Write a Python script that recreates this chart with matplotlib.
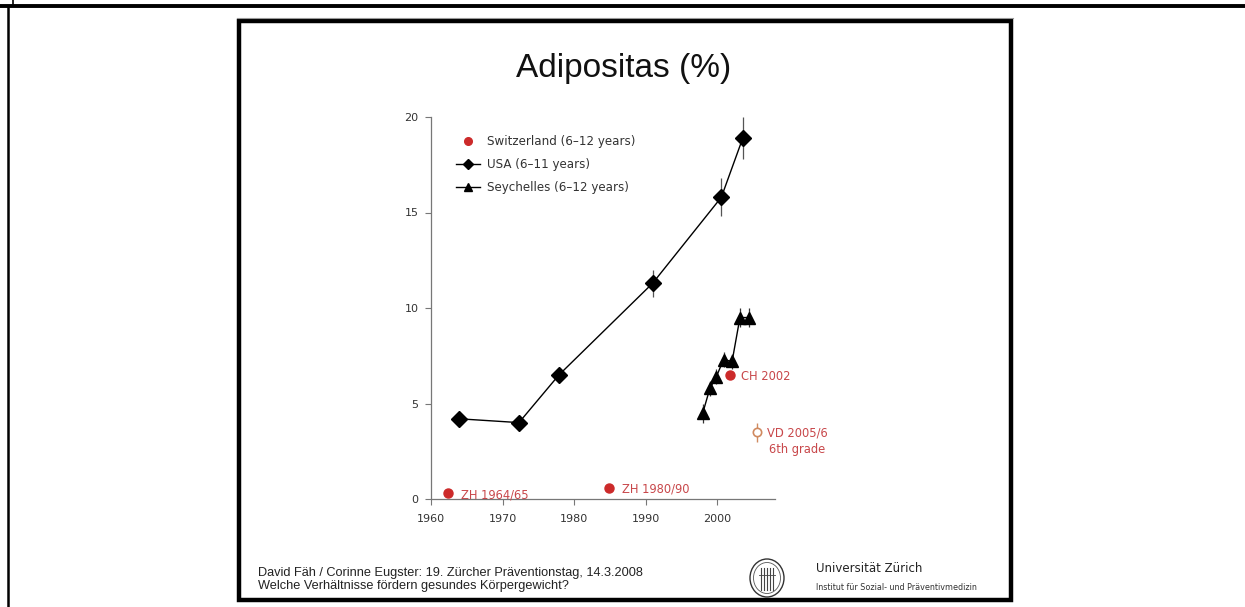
import matplotlib
matplotlib.use("Agg")
import matplotlib.pyplot as plt
from matplotlib.patches import Rectangle, Ellipse
from matplotlib.lines import Line2D

# ---------------- data ----------------
usa_years = [1963.9, 1972.3, 1977.9, 1991.0, 2000.6, 2003.6]
usa_vals = [4.2, 4.0, 6.5, 11.3, 15.8, 18.9]
usa_err = [0.2, 0.2, 0.2, 0.7, 1.0, 1.1]

sey_years = [1998.0, 1999.0, 1999.9, 2000.9, 2002.1, 2003.2, 2004.4]
sey_vals = [4.5, 5.8, 6.4, 7.3, 7.2, 9.5, 9.5]
sey_err = [0.5, 0.4, 0.4, 0.4, 0.4, 0.5, 0.5]

ch_years = [1962.4, 1984.9, 2001.8]
ch_vals = [0.3, 0.6, 6.5]
ch_labels = ["ZH 1964/65", "ZH 1980/90", "CH 2002"]

vd_year = [2005.6]
vd_val = [3.5]
vd_err = [0.5]
vd_label = "VD 2005/6\n6th grade"

x_ticks = [1960, 1970, 1980, 1990, 2000]
y_ticks = [0, 5, 10, 15, 20]

title = "Adipositas (%)"
legend_labels = ["Switzerland (6\u201312 years)", "USA (6\u201311 years)", "Seychelles (6\u201312 years)"]
footer1 = "David Fäh / Corinne Eugster: 19. Zürcher Präventionstag, 14.3.2008"
footer2 = "Welche Verhältnisse fördern gesundes Körpergewicht?"
uni1 = "Universität Zürich"
uni2 = "Institut für Sozial- und Präventivmedizin"

W, H = 1245, 607
RED = "#cc2a2a"
TXTRED = "#c8474a"

fig = plt.figure(figsize=(W / 100, H / 100), dpi=100)
fig.patch.set_facecolor("white")

# background decoration axes in pixel coordinates
bg = fig.add_axes([0, 0, 1, 1])
bg.set_xlim(0, W)
bg.set_ylim(H, 0)
bg.axis("off")
# outer document frame
bg.plot([0, W], [6, 6], color="black", lw=2.8, solid_capstyle="butt")
bg.plot([8, 8], [6, H], color="black", lw=1.8, solid_capstyle="butt")
bg.plot([13, 13], [0, 6], color="black", lw=1.2, solid_capstyle="butt")
# slide frame
bg.plot([237, 1013], [17.5, 17.5], color="#999999", lw=0.8)
bg.add_patch(Rectangle((239, 21), 772, 579, fill=False, edgecolor="black", lw=3.2))

# title
bg.text(624, 68, title, ha="center", va="center", fontsize=24,
        family="Liberation Sans", color="#111111")

# footer
bg.text(258, 573, footer1, ha="left", va="center", fontsize=9.2,
        family="Liberation Sans", color="#222222")
bg.text(258, 586, footer2, ha="left", va="center", fontsize=9.2,
        family="Liberation Sans", color="#222222")
# logo seal
bg.add_patch(Ellipse((767, 578), 34, 38, fill=False, edgecolor="#333333", lw=1.0))
bg.add_patch(Ellipse((767, 578), 27, 31, fill=False, edgecolor="#555555", lw=0.6))
for dx in (-6, -3, 0, 3, 6):
    bg.plot([767 + dx, 767 + dx], [568, 590], color="#444444", lw=0.8)
bg.plot([759, 775], [575, 575], color="#444444", lw=0.6)
bg.text(816, 569, uni1, ha="left", va="center", fontsize=8.5,
        family="Liberation Sans Narrow", color="#222222")
bg.text(816, 587, uni2, ha="left", va="center", fontsize=5.8,
        family="Liberation Sans Narrow", color="#333333")

# ---------------- chart ----------------
ax = fig.add_axes([431 / W, 1 - 499 / H, (775 - 431) / W, (499 - 117) / H])
ax.set_facecolor("none")
ax.set_xlim(1960, 2008.1)
ax.set_ylim(0, 20)
for s in ("top", "right"):
    ax.spines[s].set_visible(False)
for s in ("left", "bottom"):
    ax.spines[s].set_color("#777777")
    ax.spines[s].set_linewidth(0.9)
ax.set_xticks(x_ticks)
ax.set_yticks(y_ticks)
ax.tick_params(axis="both", direction="out", length=4, width=0.8, color="#777777",
               labelsize=8, labelcolor="#333333")
ax.tick_params(axis="x", pad=7)
ax.tick_params(axis="y", pad=5)

# USA
ax.errorbar(usa_years, usa_vals, yerr=usa_err, fmt="-D", color="black", ms=8,
            lw=1.0, elinewidth=0.9, capsize=0, mfc="black", mec="black",
            ecolor="#555555", clip_on=False, zorder=3)
# Seychelles
ax.errorbar(sey_years, sey_vals, yerr=sey_err, fmt="-^", color="black", ms=8,
            lw=1.0, elinewidth=0.9, capsize=0, ecolor="#333333",
            clip_on=False, zorder=3)
# Switzerland
ax.plot(ch_years, ch_vals, "o", color=RED, ms=6.5, clip_on=False, zorder=4)
offsets = [(9, -1), (9, -1), (8, -1)]
for x, y, lab, off in zip(ch_years, ch_vals, ch_labels, offsets):
    ax.annotate(lab, (x, y), xytext=off, textcoords="offset points",
                ha="left", va="center", fontsize=8.3, color=TXTRED)
# VD
ax.errorbar(vd_year, vd_val, yerr=vd_err, fmt="o", ms=6, mfc="white",
            mec="#d08a60", ecolor="#d08a60", elinewidth=1.0, capsize=0,
            mew=1.2, clip_on=False, zorder=4)
ax.annotate(vd_label, (vd_year[0], vd_val[0]), xytext=(7, 4),
            textcoords="offset points", ha="left", va="top",
            fontsize=8.3, color=TXTRED, linespacing=1.3,
            multialignment="center")

# legend
handles = [
    Line2D([], [], ls="none", marker="o", color=RED, ms=5.5),
    Line2D([], [], ls="-", marker="D", color="black", ms=5, lw=1.0),
    Line2D([], [], ls="-", marker="^", color="black", ms=6, lw=1.0),
]
leg = ax.legend(handles, legend_labels, loc="upper left",
                bbox_to_anchor=(0.06, 0.965), frameon=False, fontsize=8.6,
                handlelength=2.0, handletextpad=0.6, labelspacing=0.85,
                borderaxespad=0)
for t in leg.get_texts():
    t.set_color("#333333")

fig.savefig("out.png", dpi=100)
